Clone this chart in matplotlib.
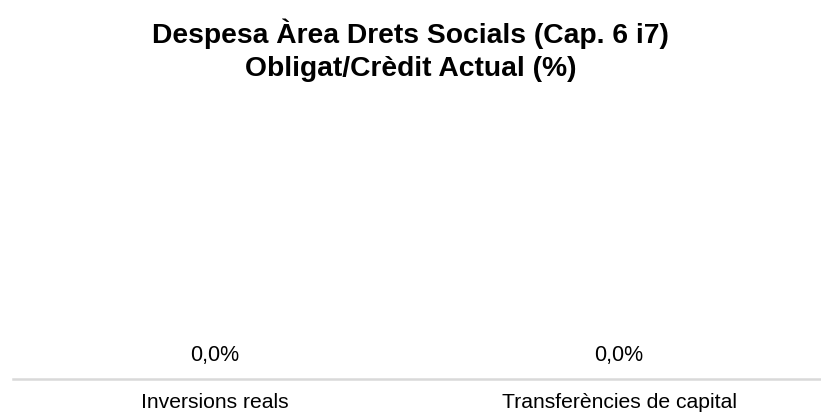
import matplotlib.pyplot as plt

categories = ['Inversions reals', 'Transferències de capital']
values = [0.0, 0.0]

plt.rcParams['font.family'] = ['Liberation Sans', 'DejaVu Sans']

fig = plt.figure(figsize=(8.21, 4.17), dpi=100)
fig.patch.set_facecolor('white')
ax = fig.add_axes([0.016, 0.092, 0.984, 0.70])

x = list(range(len(categories)))
ax.bar(x, values, width=0.6, color='#4472c4')
for xi, v in zip(x, values):
    ax.annotate(f'{v:.1f}%'.replace('.', ','), xy=(xi, v), xytext=(0, 9),
                textcoords='offset points', ha='center', va='bottom',
                fontsize=15.5, color='#000000')

ax.set_xlim(-0.5, len(categories) - 0.5)
ax.set_ylim(0, 1)
ax.set_xticks(x)
ax.set_xticklabels(categories, fontsize=15.2)
ax.tick_params(axis='x', length=0, pad=10)
ax.set_yticks([])
for s in ['top', 'right', 'left']:
    ax.spines[s].set_visible(False)
ax.spines['bottom'].set_color('#d9d9d9')
ax.spines['bottom'].set_linewidth(1.8)

fig.suptitle('Despesa Àrea Drets Socials (Cap. 6 i7)\nObligat/Crèdit Actual (%)',
             fontsize=20.3, fontweight='bold', x=0.5, y=0.955, linespacing=1.33)

plt.savefig('out.png', dpi=100, facecolor='white')
plt.close()
